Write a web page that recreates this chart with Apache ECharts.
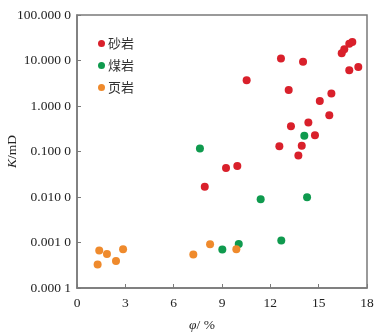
<!DOCTYPE html>
<html>
<head>
<meta charset="utf-8">
<script src="https://cdn.jsdelivr.net/npm/echarts@6/dist/echarts.min.js"></script>
<style>
    html, body { margin: 0; padding: 0; background: #fff; }
    #charts { width: 379px; height: 334px; }
</style>
</head>
<body>
<div id="charts"></div>
<script>
    // 孔隙度 φ(%) 与渗透率 K(mD)
    var seriesNames = ['砂岩', '煤岩', '页岩'];
    var sandstone = [
        [16.43, 14.4], [16.59, 17.6], [16.90, 23.4], [17.09, 25.5],
        [16.90, 6.07], [17.46, 7.18], [12.66, 11.1], [14.03, 9.39],
        [10.53, 3.66], [13.14, 2.24], [15.79, 1.89], [15.07, 1.28],
        [15.66, 0.63], [14.36, 0.436], [13.28, 0.361], [14.77, 0.229],
        [12.56, 0.131], [13.95, 0.133], [13.74, 0.0818], [9.25, 0.0436],
        [9.95, 0.0483], [7.93, 0.0167]
    ];
    var coal = [
        [7.63, 0.117], [14.11, 0.221], [11.40, 0.00895], [14.28, 0.0099],
        [10.04, 0.00093], [9.02, 0.0007], [12.68, 0.0011]
    ];
    var shale = [
        [8.26, 0.000914], [9.89, 0.00071], [7.22, 0.000543], [1.38, 0.000665],
        [1.86, 0.00056], [1.28, 0.000327], [2.42, 0.000393], [2.86, 0.00071]
    ];
    var colors = ['#d9202b', '#0f9a4e', '#ef8a2c'];

    var charts = echarts.init(document.getElementById('charts'));
    var axisFont = { fontFamily: 'Liberation Serif', fontSize: 13.5, color: '#222' };

    charts.setOption({
        animation: false,
        color: colors,
        grid: {
            left: 77, right: 12, top: 15, bottom: 46,
            outerBoundsMode: 'none',
            containLabel: false,
            show: true, borderColor: '#7a7a7a', borderWidth: 1.5
        },
        legend: {
            orient: 'vertical',
            left: 93, top: 32,
            itemWidth: 7, itemHeight: 7, itemGap: 9,
            icon: 'circle',
            textStyle: { fontFamily: 'Noto Sans CJK SC', fontSize: 13, color: '#333', padding: [0, 0, 0, -2] },
            data: seriesNames
        },
        xAxis: {
            type: 'value', min: 0, max: 18, interval: 3,
            axisLine: { lineStyle: { color: '#7a7a7a', width: 1.5 } },
            axisTick: { inside: true, length: 4, lineStyle: { color: '#7a7a7a' } },
            splitLine: { show: false },
            axisLabel: Object.assign({ margin: 8 }, axisFont),
            name: '{i|φ}/ %',
            nameLocation: 'middle',
            nameGap: 30,
            nameMoveOverlap: false,
            nameTextStyle: {
                fontFamily: 'Liberation Serif', fontSize: 13.5, color: '#222',
                padding: [0, 40, 0, 0],
                rich: { i: { fontFamily: 'Liberation Serif', fontStyle: 'italic', fontSize: 13.5, color: '#222' } }
            }
        },
        yAxis: {
            type: 'log', min: 0.0001, max: 100, logBase: 10,
            axisLine: { lineStyle: { color: '#7a7a7a', width: 1.5 } },
            axisTick: { inside: true, length: 4, lineStyle: { color: '#7a7a7a' } },
            splitLine: { show: false },
            axisLabel: Object.assign({
                margin: 6,
                formatter: function (v) {
                    var s = v.toFixed(4);
                    return s.slice(0, -1) + ' ' + s.slice(-1);
                }
            }, axisFont),
            name: '{i|K}/mD',
            nameLocation: 'middle',
            nameGap: 58,
            nameMoveOverlap: false,
            nameTextStyle: {
                fontFamily: 'Liberation Serif', fontSize: 13.5, color: '#222',
                rich: { i: { fontFamily: 'Liberation Serif', fontStyle: 'italic', fontSize: 13.5, color: '#222' } }
            }
        },
        series: [
            { name: seriesNames[0], type: 'scatter', symbolSize: 8, itemStyle: { opacity: 1 }, data: sandstone },
            { name: seriesNames[1], type: 'scatter', symbolSize: 8, itemStyle: { opacity: 1 }, data: coal },
            { name: seriesNames[2], type: 'scatter', symbolSize: 8, itemStyle: { opacity: 1 }, data: shale }
        ]
    });
</script>
</body>
</html>
